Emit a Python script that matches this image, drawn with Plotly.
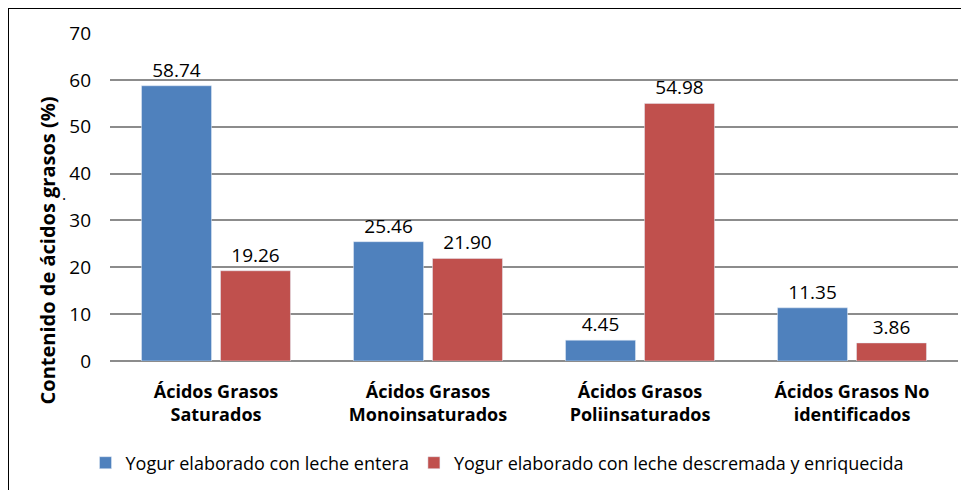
import plotly.graph_objects as go

categories = ["Ácidos Grasos<br>Saturados", "Ácidos Grasos<br>Monoinsaturados",
              "Ácidos Grasos<br>Poliinsaturados", "Ácidos Grasos No<br>identificados"]
entera = [58.74, 25.46, 4.45, 11.35]
descremada = [19.26, 21.90, 54.98, 3.86]
series_names = ["Yogur elaborado con leche entera",
                "Yogur elaborado con leche descremada y enriquecida"]
ytitle = "Contenido de ácidos grasos (%)"

FONT = "Open Sans"
fig = go.Figure()
fig.add_trace(go.Bar(x=categories, y=entera, name=series_names[0],
                     marker_color="#4F81BD", texttemplate="%{y:.2f}",
                     textposition="outside", cliponaxis=False,
                     textfont=dict(size=19, color="black", family=FONT)))
fig.add_trace(go.Bar(x=categories, y=descremada, name=series_names[1],
                     marker_color="#C0504D", texttemplate="%{y:.2f}",
                     textposition="outside", cliponaxis=False,
                     textfont=dict(size=19, color="black", family=FONT)))

# page has an 8px body margin; figure coords = reference coords - 8
OFF = 8
W, H = 961, 482
L, R, T, B = 102, 11, 25, 129
pw, ph = W - L - R, H - T - B
def px(x): return (x - OFF - L) / pw
def py(y): return (H - B - (y - OFF)) / ph

fig.update_layout(
    width=W, height=H, margin=dict(l=L, r=R, t=T, b=B, autoexpand=False),
    paper_bgcolor="white", plot_bgcolor="white",
    font=dict(family=FONT, size=18, color="black"),
    barmode="group", bargap=0.255, bargroupgap=0.114,
    showlegend=True,
    legend=dict(orientation="h", x=px(497), xanchor="center", y=py(463), yanchor="middle",
                font=dict(size=18, family=FONT), itemwidth=30, traceorder="normal"),
    xaxis=dict(tickfont=dict(size=18, family=FONT, weight="bold"), showgrid=False,
               showline=False, ticklabelstandoff=18),
    yaxis=dict(range=[0, 70], dtick=10, showgrid=True, gridcolor="#8c8c8c", gridwidth=2,
               zeroline=True, zerolinecolor="#8c8c8c", zerolinewidth=2,
               tickfont=dict(size=19, family=FONT), ticklabelstandoff=18, showline=False),
)
fig.add_annotation(text="<b>" + ytitle + "</b>", textangle=-90, xref="paper", yref="paper",
                   x=px(32), y=py(251), showarrow=False, font=dict(size=20, family=FONT))
fig.add_annotation(text=".", xref="paper", yref="paper", x=px(60), y=py(194),
                   showarrow=False, font=dict(size=16, family=FONT))
fig.add_shape(type="line", xref="paper", yref="paper", x0=px(8), x1=px(975), y0=py(8), y1=py(8),
              line=dict(color="black", width=2))
fig.add_shape(type="line", xref="paper", yref="paper", x0=px(8), x1=px(8), y0=py(8), y1=py(495),
              line=dict(color="black", width=2))
fig.write_html("out.html")
